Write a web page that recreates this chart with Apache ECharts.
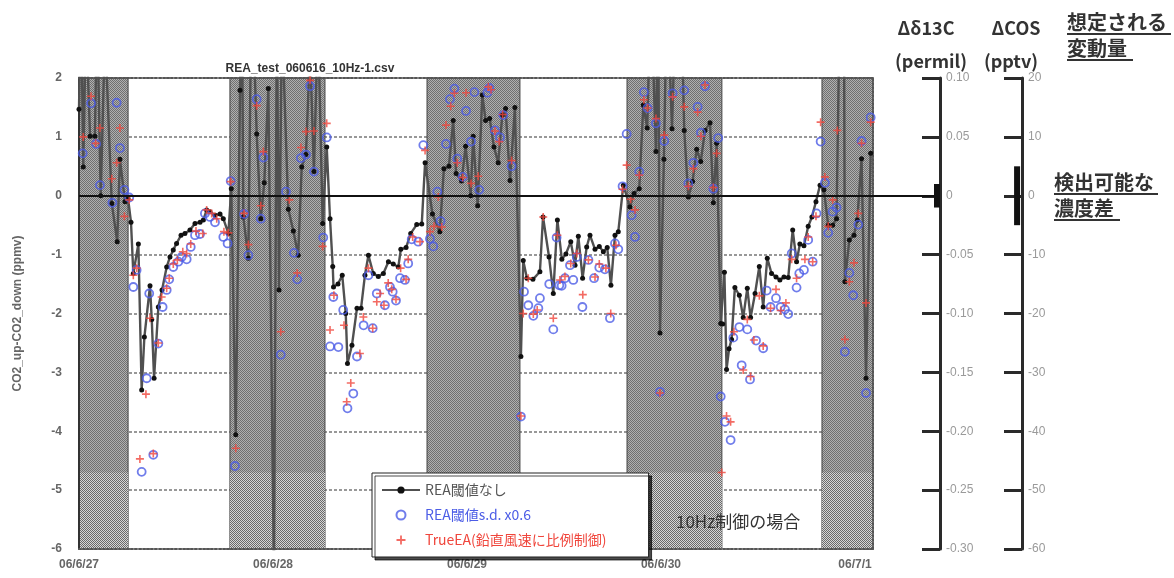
<!DOCTYPE html>
<html>
<head>
<meta charset="utf-8">
<script src="https://cdn.jsdelivr.net/npm/echarts@6/dist/echarts.min.js"></script>
<style>
  html, body { margin: 0; padding: 0; background: #fff; }
  #chart { width: 1174px; height: 578px; }
</style>
</head>
<body>
<div id="chart"></div>
<script>
// x values are days since 06/6/27 00:00
const dayLabels = ['06/6/27', '06/6/28', '06/6/29', '06/6/30', '06/7/1']

// night periods (shaded)
const nightSpans = [[0, 0.253], [0.778, 1.268], [1.794, 2.273], [2.825, 3.314], [3.830, 4.093]]

// REA閾値なし (black line)
const reaTime = [
  0.000, 0.010, 0.022, 0.036, 0.057, 0.082, 0.093, 0.112, 0.134, 0.169, 0.197, 0.211, 0.237, 0.253,
  0.268, 0.280, 0.306, 0.323, 0.337, 0.366, 0.375, 0.387, 0.409, 0.428, 0.452, 0.469, 0.486, 0.503,
  0.526, 0.546, 0.572, 0.598, 0.624, 0.641, 0.658, 0.675, 0.701, 0.727, 0.744, 0.770,
  0.785, 0.808, 0.830, 0.840, 0.847, 0.873, 0.890, 0.916, 0.937, 0.955, 0.976, 1.005, 1.020, 1.031,
  1.046, 1.079, 1.105, 1.130, 1.148, 1.170, 1.191, 1.211, 1.232, 1.256, 1.277,
  1.294, 1.308, 1.312, 1.335, 1.357, 1.375, 1.384, 1.407, 1.433, 1.454, 1.474, 1.492, 1.517, 1.543,
  1.569, 1.595, 1.620, 1.646, 1.659, 1.686, 1.710, 1.741, 1.767, 1.784,
  1.822, 1.860, 1.881, 1.907, 1.929, 1.944, 1.972, 1.993, 2.019, 2.032, 2.055, 2.079, 2.096, 2.117,
  2.139, 2.161, 2.182, 2.199, 2.222, 2.247, 2.278,
  2.290, 2.309, 2.340, 2.376, 2.392, 2.423, 2.445, 2.466, 2.489, 2.510, 2.535, 2.557, 2.574, 2.596,
  2.617, 2.634, 2.660, 2.682, 2.703, 2.723, 2.742, 2.763, 2.780, 2.806,
  2.840, 2.861, 2.888, 2.909, 2.929, 2.948, 2.974, 2.985, 2.995, 3.015, 3.031, 3.057, 3.077, 3.103,
  3.120, 3.141, 3.163, 3.184, 3.205, 3.227, 3.253, 3.270, 3.287, 3.308,
  3.318, 3.327, 3.338, 3.351, 3.364, 3.381, 3.404, 3.424, 3.445, 3.462, 3.485, 3.507, 3.527, 3.548,
  3.570, 3.593, 3.613, 3.634, 3.656, 3.679, 3.699, 3.716, 3.737, 3.759, 3.778, 3.799, 3.820,
  3.840, 3.862, 3.885, 3.905, 3.923, 3.943, 3.948, 3.971, 3.995, 4.012, 4.034, 4.057, 4.081
]
const reaValue = [
  1.47, 3.5, 0.49, 3.0, 1.01, 1.01, 3.2, 0.0, 2.8, -0.13, -0.78, 0.62, -0.1, -0.05,
  -0.45, -1.32, -0.82, -3.3, -2.4, -1.53, -2.1, -3.1, -1.89, -1.6, -1.21, -1.04, -0.92, -0.81,
  -0.67, -0.64, -0.58, -0.47, -0.45, -0.41, -0.24, -0.27, -0.33, -0.31, -0.39, -0.64,
  0.12, -4.06, 1.79, 3.5, -0.36, -1.06, 3.8, 1.05, -0.39, 0.22, 1.82, -6.5, 3.2, -1.6,
  3.0, -0.23, -0.6, -1.01, 0.49, 0.7, 2.5, 0.41, 3.0, -0.47, 0.83,
  -0.39, -1.2, -1.55, -1.5, -1.35, -2.0, -2.85, -2.54, -1.91, -1.91, -1.35, -1.01, -1.32, -1.37,
  -1.32, -1.12, -1.16, -1.21, -0.91, -0.88, -0.64, -0.49, -0.48, 0.56,
  -0.31, -0.61, 0.46, 0.5, 1.28, 0.38, 0.25, 0.84, 0.0, 1.01, -0.17, 1.71, 1.28, 1.31,
  0.83, 0.56, 1.37, 1.48, 0.26, 1.5, -2.73,
  -1.1, -1.4, -1.42, -1.29, -0.36, -1.04, -1.66, -0.41, -1.08, -0.99, -0.78, -1.18, -0.69, -1.4,
  -0.87, -0.67, -0.91, -0.86, -0.95, -0.88, -1.52, -0.67, -0.61, 0.18,
  -0.19, 0.04, 0.12, 1.54, 1.15, 3.5, 0.75, 3.5, -2.33, 0.62, 3.5, 1.14, 3.5, 3.5,
  1.11, -0.02, 0.24, 0.79, 0.58, 1.11, 1.24, -0.12, 0.89, -2.17,
  -2.18, -1.3, -2.95, -2.6, -2.44, -1.56, -1.69, -2.07, -1.57, -2.07, -1.66, -1.2, -1.89, -1.06,
  -1.32, -1.38, -1.43, -1.38, -1.39, -0.58, -1.12, -0.82, -0.85, -0.52, -0.36, -0.1, 0.18,
  0.1, -0.5, -0.5, -0.39, 3.5, 3.5, -1.46, -0.75, -0.67, -0.41, 0.63, -3.1, 0.72
]

// REA閾値s.d. x0.6 (blue circles)
const sdTime = [
  0.019, 0.062, 0.088, 0.108, 0.172, 0.194, 0.211, 0.234, 0.259,
  0.280, 0.297, 0.323, 0.349, 0.362, 0.383, 0.409, 0.431, 0.452, 0.465, 0.486, 0.512, 0.529, 0.555,
  0.576, 0.598, 0.624, 0.649, 0.675, 0.701, 0.744, 0.766,
  0.782, 0.804, 0.851, 0.873, 0.916, 0.937, 0.950, 1.040, 1.067, 1.108, 1.125, 1.144, 1.170, 1.191,
  1.211, 1.259, 1.277,
  1.294, 1.311, 1.337, 1.362, 1.384, 1.414, 1.433, 1.467, 1.492, 1.514, 1.535, 1.577, 1.603, 1.617,
  1.634, 1.655, 1.680, 1.697, 1.715, 1.749, 1.775, 1.809, 1.826,
  1.847, 1.864, 1.892, 1.912, 1.935, 1.950, 1.978, 1.995, 2.021, 2.038, 2.063, 2.105, 2.115, 2.144,
  2.170, 2.187, 2.230, 2.278,
  2.294, 2.316, 2.342, 2.368, 2.376, 2.424, 2.445, 2.462, 2.476, 2.488, 2.505, 2.531, 2.548, 2.566,
  2.595, 2.626, 2.655, 2.682, 2.711, 2.737, 2.763, 2.780, 2.802,
  2.823, 2.849, 2.866, 2.888, 2.912, 2.931, 2.974, 2.995, 3.017, 3.060, 3.120, 3.141, 3.167, 3.189,
  3.206, 3.227, 3.270, 3.295,
  3.308, 3.330, 3.359, 3.373, 3.404, 3.416, 3.445, 3.459, 3.490, 3.527, 3.545, 3.565, 3.593, 3.617,
  3.639, 3.656, 3.674, 3.699, 3.713, 3.737, 3.759, 3.782, 3.802, 3.823,
  3.845, 3.862, 3.885, 3.905, 3.948, 3.971, 3.991, 4.017, 4.034, 4.057, 4.081
]
const sdValue = [
  0.72, 1.57, 0.88, 0.18, -0.12, 1.58, 0.81, 0.1, -0.03,
  -1.55, -1.26, -4.69, -3.1, -1.66, -4.4, -2.51, -1.89, -1.6, -1.42, -1.21, -1.12, -1.04, -1.08,
  -0.87, -0.67, -0.65, -0.3, -0.36, -0.45, -0.7, -0.81,
  0.25, -4.59, -0.31, -1.01, 1.64, -0.39, 0.65, -2.7, 0.07, -0.97, -1.42, 0.64, 0.7, 1.86,
  0.41, -0.71, 0.99,
  -2.56, -1.72, -2.57, -1.94, -3.61, -3.36, -2.73, -2.2, -1.35, -2.25, -1.66, -1.86, -1.55, -1.63,
  -1.78, -1.4, -1.43, -1.15, -0.74, -0.78, 0.86, -0.73, -0.86,
  0.07, -0.43, 0.88, 1.64, 1.82, 0.63, 0.32, 1.44, 0.92, 1.76, 0.1, 1.75, 1.83, 1.11,
  0.99, 1.37, 0.5, -3.75,
  -1.63, -1.86, -2.04, -1.91, -1.74, -1.5, -2.27, -0.71, -1.52, -1.53, -1.4, -1.18, -1.43, -1.04,
  -1.89, -1.09, -1.4, -1.22, -1.25, -2.08, -0.81, -0.91, 0.16,
  1.05, -0.33, -0.7, 0.41, 1.76, 1.49, 1.23, -3.33, 0.93, 1.74, 1.79, 0.21, 0.56, 1.51,
  1.07, 1.86, 0.12, 0.98,
  -3.41, -3.84, -4.15, -2.41, -2.23, -2.88, -2.27, -3.12, -2.46, -2.59, -1.61, -1.89, -1.74, -1.89,
  -1.93, -2.01, -0.98, -1.56, -1.32, -1.26, -0.75, -1.12, -0.3, 0.92,
  0.22, -0.63, -0.27, -0.2, -2.65, -1.31, -1.69, -0.49, 0.93, -3.35, 1.33
]

// TrueEA(鉛直風速に比例制御) (red plus)
const trueTime = [
  0.022, 0.062, 0.086, 0.108, 0.169, 0.194, 0.211, 0.234, 0.259,
  0.280, 0.297, 0.314, 0.345, 0.366, 0.383, 0.409, 0.426, 0.452, 0.465, 0.486, 0.507, 0.535, 0.555,
  0.576, 0.603, 0.638, 0.658, 0.684, 0.710, 0.747, 0.770,
  0.782, 0.808, 0.851, 0.873, 0.916, 0.937, 0.950, 1.040, 1.084, 1.125, 1.144, 1.170, 1.191, 1.211,
  1.256, 1.277,
  1.294, 1.314, 1.366, 1.380, 1.401, 1.448, 1.466, 1.492, 1.514, 1.535, 1.552, 1.572, 1.594, 1.612,
  1.634, 1.658, 1.686, 1.697, 1.720, 1.758, 1.784, 1.809, 1.830,
  1.852, 1.870, 1.892, 1.916, 1.935, 1.950, 1.978, 1.995, 2.021, 2.058, 2.110, 2.124, 2.144, 2.166,
  2.184, 2.230, 2.278,
  2.290, 2.316, 2.342, 2.362, 2.393, 2.445, 2.466, 2.479, 2.505, 2.535, 2.566, 2.597, 2.626, 2.660,
  2.682, 2.716, 2.741, 2.768, 2.802,
  2.823, 2.844, 2.866, 2.888, 2.912, 2.931, 2.974, 2.995, 3.017, 3.060, 3.120, 3.141, 3.167, 3.189,
  3.206, 3.227, 3.270, 3.287,
  3.313, 3.338, 3.359, 3.376, 3.424, 3.445, 3.462, 3.479, 3.507, 3.527, 3.565, 3.593, 3.617, 3.644,
  3.674, 3.699, 3.742, 3.759, 3.782, 3.799, 3.823,
  3.845, 3.862, 3.885, 3.909, 3.948, 3.971, 3.995, 4.017, 4.034, 4.057, 4.081
]
const trueValue = [
  1.0, 1.69, 0.89, 1.15, 0.29, 0.56, 1.15, -0.35, -0.07,
  -1.35, -1.23, -4.47, -3.37, -2.08, -4.38, -2.5, -1.72, -1.57, -1.4, -1.16, -1.09, -0.95, -0.98,
  -0.82, -0.6, -0.64, -0.24, -0.3, -0.39, -0.61, -0.63,
  0.24, -4.29, -0.3, -0.83, 1.53, -0.17, 0.75, -2.31, -0.07, -1.31, 0.82, 1.09, 1.96, 1.1,
  -0.86, 1.23,
  -2.28, -1.69, -2.2, -3.5, -3.18, -2.68, -2.06, -1.23, -2.25, -1.8, -1.66, -1.86, -1.48, -1.59,
  -1.76, -1.23, -1.42, -1.08, -0.7, -0.78, 0.77, -0.61, -0.52,
  -0.02, -0.53, 1.2, 1.52, 1.74, 0.56, 0.31, 1.75, 0.21, 0.33, 1.85, 1.8, 1.1, 0.92,
  1.38, 0.6, -3.74,
  -2.0, -1.4, -2.01, -1.94, -0.36, -2.08, -0.67, -1.43, -1.37, -1.15, -0.98, -1.68, -1.09, -1.38,
  -1.16, -1.23, -2.0, -0.84, 0.11,
  0.52, -0.06, -0.24, 0.35, 1.63, 1.49, 1.31, -3.35, 1.03, 1.68, 1.51, 0.16, 0.46, 1.42,
  1.01, 1.88, 0.14, 0.72,
  -4.7, -3.74, -3.84, -2.31, -2.96, -2.1, -3.07, -2.45, -1.7, -2.55, -1.91, -1.59, -1.95, -1.82,
  -1.08, -1.4, -1.08, -0.7, -1.12, -0.35, 1.25,
  0.32, -0.52, -0.07, 1.11, -2.44, -1.46, -1.14, -0.3, 0.89, -1.82, 1.25
]

// right-hand scales and detectable ranges
const d13cRange = [-0.30, 0.10]
const cosRange = [-60, 20]
const detectD13C = [-0.01, 0.01]
const detectCOS = [-5, 5]

const zip = (xs, ys) => xs.map((x, i) => [x, ys[i]])

function pattern (base, dot) {
    let c = document.createElement('canvas')
    c.width = 2
    c.height = 2
    let g = c.getContext('2d')
    g.fillStyle = base
    g.fillRect(0, 0, 2, 2)
    g.fillStyle = dot
    g.fillRect(0, 0, 1, 1)
    g.fillRect(1, 1, 1, 1)
    return {image: c, repeat: 'repeat'}
}

let chart = echarts.init(document.getElementById('chart'))

const plusPath = 'path://M4,0 L6,0 L6,4 L10,4 L10,6 L6,6 L6,10 L4,10 L4,6 L0,6 L0,4 L4,4 Z'
const jpFont = '"Noto Sans CJK JP", "Liberation Sans", sans-serif'

let rightAxis = function (gridIndex, range, interval, fmt) {
    return {
        gridIndex: gridIndex,
        type: 'value',
        position: 'right',
        min: range[0],
        max: range[1],
        interval: interval,
        z: 3,
        axisLine: {show: true, onZero: false, lineStyle: {color: '#2a2a2a', width: 3}},
        axisTick: {show: true, inside: true, length: 18, lineStyle: {color: '#2a2a2a', width: 3}},
        axisLabel: {color: '#9a9a9a', fontSize: 12, margin: 6, formatter: fmt},
        splitLine: {show: false}
    }
}

let headers = [
    {text: 'Δδ13C', x: 926, y: 28, align: 'center', size: 18},
    {text: '(permil)', x: 931, y: 61, align: 'center', size: 18},
    {text: 'ΔCOS', x: 1016, y: 28, align: 'center', size: 18},
    {text: '(pptv)', x: 1011, y: 61, align: 'center', size: 18},
    {text: '想定される', x: 1067, y: 22, align: 'left', size: 20, ul: 104},
    {text: '変動量', x: 1067, y: 48, align: 'left', size: 20, ul: 66},
    {text: '検出可能な', x: 1054, y: 182, align: 'left', size: 20, ul: 104},
    {text: '濃度差', x: 1054, y: 208, align: 'left', size: 20, ul: 66}
]
let graphics = []
headers.forEach(function (h) {
    graphics.push({
        type: 'text', z: 10,
        style: {
            text: h.text, x: h.x, y: h.y, fill: '#333',
            font: 'bold ' + h.size + 'px ' + jpFont,
            textAlign: h.align, textVerticalAlign: 'middle'
        }
    })
    if (h.ul) {
        graphics.push({
            type: 'rect', z: 10,
            shape: {x: h.x, y: h.y + 11, width: h.ul, height: 2},
            style: {fill: '#333'}
        })
    }
})
graphics.push({
    type: 'text', z: 10,
    style: {
        text: '10Hz制御の場合', x: 676, y: 522, fill: '#333',
        font: '17px ' + jpFont, textVerticalAlign: 'middle'
    }
})

let option = {
    animation: false,
    backgroundColor: '#fff',
    title: {
        text: 'REA_test_060616_10Hz-1.csv',
        left: 305,
        top: 58,
        textAlign: 'center',
        textStyle: {fontSize: 12, fontWeight: 'bold', color: '#333', fontFamily: 'Liberation Sans'}
    },
    graphic: graphics,
    legend: {
        left: 372,
        top: 473,
        orient: 'vertical',
        itemWidth: 38,
        itemHeight: 9,
        itemGap: 11,
        padding: [10, 42, 10, 9],
        backgroundColor: '#fff',
        borderColor: '#222',
        borderWidth: 1,
        shadowColor: 'rgba(0,0,0,0.7)',
        shadowOffsetX: 3,
        shadowOffsetY: 3,
        shadowBlur: 0,
        z: 8,
        textStyle: {fontSize: 14, fontFamily: jpFont},
        data: [
            {name: 'REA閾値なし', textStyle: {color: '#555'}},
            {name: 'REA閾値s.d. x0.6', textStyle: {color: '#4c5de6'}},
            {name: 'TrueEA(鉛直風速に比例制御)', textStyle: {color: '#f0463c'}}
        ]
    },
    grid: [
        {left: 79, right: 301, top: 78, bottom: 29},
        {left: 873, right: 234, top: 78, bottom: 29},
        {left: 940, right: 152, top: 78, bottom: 29}
    ],
    xAxis: [
        {
            gridIndex: 0, type: 'value', min: 0, max: 4.093, interval: 1, z: 1,
            axisLine: {show: true, onZero: false, lineStyle: {color: '#555', type: 'dotted', width: 2}},
            axisTick: {show: false},
            splitLine: {show: false},
            axisLabel: {
                color: '#666', fontSize: 12, fontWeight: 'bold', margin: 10,
                formatter: function (v) {
                    let i = Math.round(v)
                    return Math.abs(v - i) < 0.01 ? dayLabels[i] : ''
                }
            }
        },
        {
            gridIndex: 0, type: 'value', position: 'top', min: 0, max: 4.093, z: 1,
            axisLine: {show: true, onZero: false, lineStyle: {color: '#555', type: 'dotted', width: 2}},
            axisTick: {show: false}, axisLabel: {show: false}, splitLine: {show: false}
        },
        {gridIndex: 1, type: 'value', min: 0, max: 1, show: false},
        {gridIndex: 2, type: 'value', min: 0, max: 1, show: false}
    ],
    yAxis: [
        {
            gridIndex: 0, type: 'value', min: -6, max: 2, interval: 1, z: 1,
            name: 'CO2_up-CO2_down (ppmv)',
            nameLocation: 'middle',
            nameGap: 55,
            nameTextStyle: {color: '#666', fontSize: 12, fontWeight: 'bold'},
            axisLine: {show: true, onZero: false, lineStyle: {color: '#333', width: 2}},
            axisTick: {show: false},
            axisLabel: {color: '#666', fontSize: 12, fontWeight: 'bold', margin: 17},
            splitLine: {show: true, lineStyle: {color: '#777', type: [3, 2], width: 1.5}}
        },
        {
            gridIndex: 0, type: 'value', position: 'right', min: -6, max: 2, z: 1,
            axisLine: {show: true, onZero: false, lineStyle: {color: '#555', type: 'dotted', width: 2}},
            axisTick: {show: false}, axisLabel: {show: false}, splitLine: {show: false}
        },
        rightAxis(1, d13cRange, 0.05, function (v) {
            return Math.abs(v) < 1e-9 ? '0' : v.toFixed(2)
        }),
        rightAxis(2, cosRange, 10, function (v) {
            return String(Math.round(v))
        })
    ],
    series: [
        {
            name: 'night',
            type: 'line',
            xAxisIndex: 0,
            yAxisIndex: 0,
            data: [],
            z: 0,
            silent: true,
            markArea: {
                silent: true,
                itemStyle: {color: pattern('#b0b0b0', '#707070'), borderColor: '#444', borderWidth: 1},
                data: nightSpans.map(s => [{xAxis: s[0]}, {xAxis: s[1]}]).concat(
                    nightSpans.map(s => [
                        {coord: [s[0], -6], itemStyle: {color: pattern('#d6d6d6', '#6a6a6a'), borderWidth: 0}},
                        {coord: [s[1], -4.7]}
                    ])
                )
            },
            markLine: {
                silent: true,
                symbol: 'none',
                label: {show: false},
                lineStyle: {color: '#111', width: 2, type: 'solid'},
                data: [{yAxis: 0}]
            }
        },
        {
            name: 'REA閾値なし',
            type: 'line',
            xAxisIndex: 0,
            yAxisIndex: 0,
            z: 2,
            data: zip(reaTime, reaValue),
            symbol: 'circle',
            symbolSize: 5,
            showAllSymbol: true,
            itemStyle: {color: '#111'},
            lineStyle: {color: '#505050', width: 2.4}
        },
        {
            name: 'REA閾値s.d. x0.6',
            type: 'scatter',
            xAxisIndex: 0,
            yAxisIndex: 0,
            z: 3,
            data: zip(sdTime, sdValue),
            symbol: 'circle',
            symbolSize: 8,
            itemStyle: {color: 'rgba(0,0,0,0)', borderColor: '#4c5de6', borderWidth: 1.8}
        },
        {
            name: 'TrueEA(鉛直風速に比例制御)',
            type: 'scatter',
            xAxisIndex: 0,
            yAxisIndex: 0,
            z: 4,
            data: zip(trueTime, trueValue),
            symbol: plusPath,
            symbolSize: 8,
            itemStyle: {color: '#f0463c'}
        },
        {
            name: 'zero-ext',
            type: 'line',
            xAxisIndex: 2,
            yAxisIndex: 2,
            data: [],
            silent: true,
            markLine: {
                silent: true,
                symbol: 'none',
                label: {show: false},
                lineStyle: {color: '#111', width: 2, type: 'solid'},
                data: [{yAxis: 0}]
            }
        },
        {
            name: 'detect13C',
            type: 'line',
            xAxisIndex: 2,
            yAxisIndex: 2,
            z: 5,
            silent: true,
            symbol: 'none',
            data: detectD13C.map(v => [0.955, v]),
            lineStyle: {color: '#111', width: 6}
        },
        {
            name: 'detectCOS',
            type: 'line',
            xAxisIndex: 3,
            yAxisIndex: 3,
            z: 5,
            silent: true,
            symbol: 'none',
            data: detectCOS.map(v => [0.94, v]),
            lineStyle: {color: '#111', width: 6}
        }
    ]
}

chart.setOption(option)
</script>
</body>
</html>
